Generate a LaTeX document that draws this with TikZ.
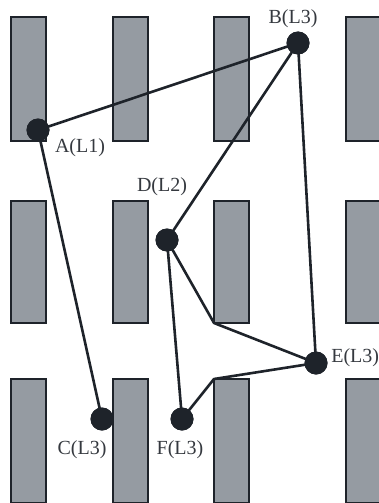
\documentclass[tikz,border=0pt]{standalone}
\usepackage{fontspec}
\setmainfont{Liberation Serif}
\usetikzlibrary{positioning}

\definecolor{pinfill}{RGB}{149,155,162}
\definecolor{viadark}{RGB}{30,35,42}

\begin{document}
\begin{tikzpicture}[x=1pt, y=-1pt, line width=2.6pt]
    \tikzstyle{pin} = [draw=viadark, fill=pinfill, line width=2.4pt]
    \tikzstyle{via} = [circle, fill=viadark, inner sep=0pt, minimum size=23pt]
    \tikzstyle{wire} = [draw=viadark, line join=round]
    \tikzstyle{tag} = [font=\fontsize{20}{22}\selectfont, inner sep=0pt, text=viadark!90]

    \useasboundingbox (0,0) rectangle (379,503);
    \clip (0,0) rectangle (379,503);

    % pin columns
    \foreach \x in {11,113,214,346} {
        \draw [pin] (\x,17) rectangle ++(35,124);
        \draw [pin] (\x,201) rectangle ++(35,122);
        \draw [pin] (\x,379) rectangle ++(35,124);
    }

    \node [via] (A) at (38,130) {};
    \node [via] (B) at (298,43) {};
    \node [via] (D) at (167,240) {};
    \node [via] (E) at (316,363) {};
    \node [via] (C) at (102,419) {};
    \node [via] (F) at (182,419) {};
    \coordinate (bend1) at (214,323);
    \coordinate (bend2) at (214,379);

    \draw [wire] (A.center) -- (B.center);
    \draw [wire] (A.center) -- (C.center);
    \draw [wire] (B.center) -- (D.center);
    \draw [wire] (B.center) -- (E.center);
    \draw [wire] (D.center) -- (bend1) -- (E.center);
    \draw [wire] (D.center) -- (F.center);
    \draw [wire] (F.center) -- (bend2) -- (E.center);

    % redraw vias over wires
    \foreach \v in {A,B,C,D,E,F}
        \fill [viadark] (\v) circle (11.5pt);

    \node [tag] (Alab) at (80,148) {A(L1)};
    \node [tag] (Blab) at (293,19) {B(L3)};
    \node [tag] (Dlab) at (162,187) {D(L2)};
    \node [tag] (Clab) at (82,450) {C(L3)};
    \node [tag] (Flab) at (180,450) {F(L3)};
    \node [tag, anchor=west] (Elab) at (330,358) {E(L3)};
\end{tikzpicture}
\end{document}
